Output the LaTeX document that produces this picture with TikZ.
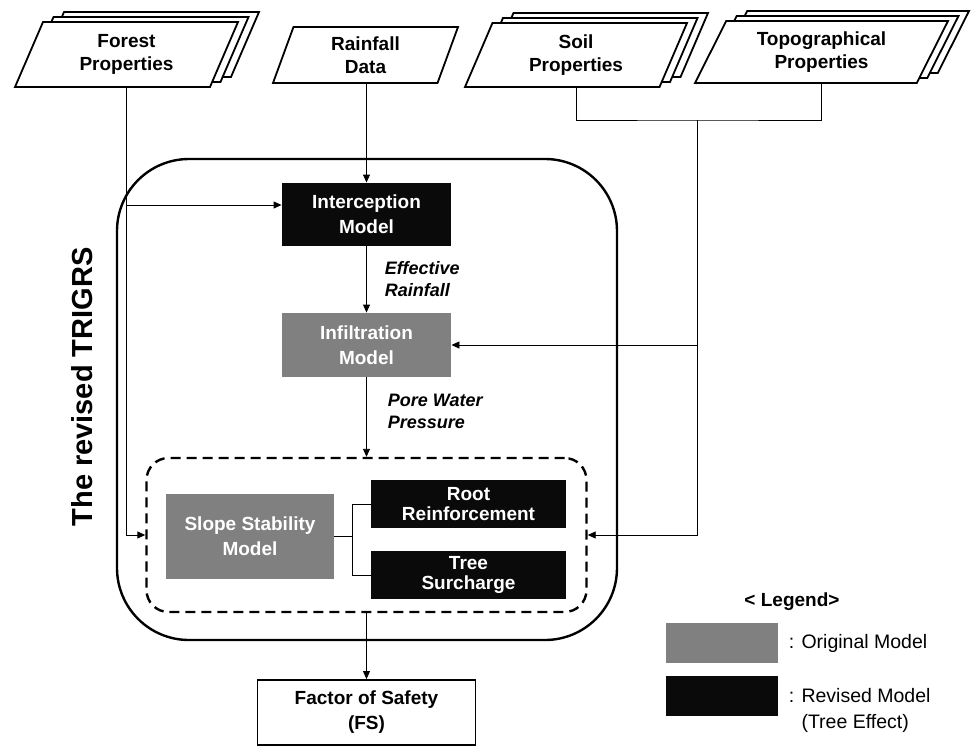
\documentclass[tikz,border=0pt]{standalone}
\usepackage{fontspec}
\setmainfont{Liberation Sans}
\usetikzlibrary{calc}
\usetikzlibrary{positioning}
\usetikzlibrary{shapes.geometric}
\usetikzlibrary{shadows}
\usetikzlibrary{arrows.meta}
\definecolor{origgray}{RGB}{128,128,128}
\definecolor{revblack}{RGB}{10,10,10}
\tikzstyle{datanode} = [trapezium, trapezium stretches body, draw, fill=white, line width=1.8pt, align=center, inner sep=0pt, font=\bfseries\fontsize{19}{23}\selectfont]
\tikzstyle{stacked} = [copy shadow={shadow xshift=21pt, shadow yshift=10pt}, copy shadow={shadow xshift=10.5pt, shadow yshift=5pt}]
\tikzstyle{modelnode} = [rectangle, align=center, text=white, inner sep=0pt, font=\bfseries\fontsize{19}{25}\selectfont]
\tikzstyle{tightlines} = [font=\bfseries\fontsize{19}{19.5}\selectfont]
\tikzstyle{colorOrig} = [fill=origgray]
\tikzstyle{colorRev} = [fill=revblack]
\tikzstyle{flowlabel} = [align=left, inner sep=0pt, font=\bfseries\itshape\fontsize{18}{22}\selectfont]
\tikzstyle{legendtext} = [align=left, inner sep=0pt, font=\fontsize{19.5}{26}\selectfont]

\begin{document}
\begin{tikzpicture}[x=1pt, y=-1pt, line width=0.9pt, >={Triangle[length=8pt,width=7pt]}]
\useasboundingbox (0,0) rectangle (975,747);

% frame of the revised model
\node[draw, line width=2.4pt, rounded corners=72pt, minimum width=500pt, minimum height=481pt] (model_frame) at (367,399.5) {};
\node[rotate=90, font=\bfseries\fontsize{29}{34}\selectfont] (frame_title) at (82,387) {The revised TRIGRS};

% input data
\node[datanode, stacked, trapezium left angle=55, trapezium right angle=125, minimum width=223pt, minimum height=65pt] (forest_data) at (126.5,54.5) {Forest\\Properties};
\node[datanode, trapezium left angle=61, trapezium right angle=119, minimum width=185pt, minimum height=56pt] (rain_data) at (365.5,55) {Rainfall\\Data};
\node[datanode, stacked, trapezium left angle=56, trapezium right angle=124, minimum width=222pt, minimum height=64pt] (soil_data) at (576,55) {Soil\\Properties};
\node[datanode, stacked, trapezium left angle=52.5, trapezium right angle=127.5, minimum width=253pt, minimum height=62pt] (topo_data) at (821.5,52) {Topographical\\Properties};

% model chain
\node[modelnode, colorRev, minimum width=169pt, minimum height=63pt] (intercept_model) at (366.5,214.5) {Interception\\Model};
\node[modelnode, colorOrig, minimum width=169pt, minimum height=64pt] (infil_model) at ($(intercept_model)+(0,130.5)$) {Infiltration\\Model};
\node[draw, line width=2.4pt, dash pattern=on 10pt off 6pt, rounded corners=22pt, minimum width=440pt, minimum height=154pt] (slope_frame) at (366.5,535) {};
\node[modelnode, colorOrig, minimum width=168pt, minimum height=85pt] (slope_model) at (250,536.5) {Slope Stability\\Model};
\node[modelnode, tightlines, colorRev, minimum width=195pt, minimum height=48pt] (root_model) at (468.5,504) {Root\\Reinforcement};
\node[modelnode, tightlines, colorRev, minimum width=195pt, minimum height=48pt] (tree_model) at ($(root_model)+(0,71)$) {Tree\\Surcharge};
\node[draw, fill=white, line width=1.8pt, align=center, inner sep=0pt, font=\bfseries\fontsize{19}{25}\selectfont, minimum width=218pt, minimum height=65pt] (fs_out) at (366.5,712.5) {Factor of Safety\\(FS)};

% legend
\node[font=\bfseries\fontsize{19}{23}\selectfont] (legend_title) at (792,602) {< Legend>};
\node[colorOrig, minimum width=112pt, minimum height=40pt] (legend_orig) at (722,643) {};
\node[colorRev, minimum width=112pt, minimum height=40pt] (legend_rev) at ($(legend_orig)+(0,53)$) {};
\node[legendtext, anchor=west] (legend_orig_text) at ($(legend_orig.east)+(10,0)$) {: Original Model};
\node[legendtext, anchor=west] (legend_rev_text) at ($(legend_rev.east)+(10,14)$) {: Revised Model\\\phantom{: }(Tree Effect)};

% connectors
\coordinate (forest_in) at ($(intercept_model.west)+(0,-9.5)$);
\coordinate (prop_join) at (697,120);
\draw[->] (forest_data.center |- forest_data.south) |- (slope_frame.west);
\draw[->] (forest_data.center |- forest_in) -- (forest_in);
\draw[->] (intercept_model.north |- rain_data.south) -- (intercept_model.north);
\draw (soil_data.center |- soil_data.south) |- (prop_join) -| (topo_data.center |- topo_data.south);
\draw[->] (prop_join) |- (infil_model.east);
\draw[->] (prop_join) |- (slope_frame.east);
\draw[->] (intercept_model) -- node[flowlabel, right=18pt] {Effective\\Rainfall} (infil_model);
\draw[->] (infil_model) -- node[flowlabel, right=21pt, pos=0.43] {Pore Water\\Pressure} (slope_frame);
\draw (slope_model.east) -- ++(18,0) coordinate (slope_fork);
\draw (root_model.west) -| (slope_fork) |- (tree_model.west);
\draw[->] (slope_frame) -- (fs_out);
\end{tikzpicture}
\end{document}
